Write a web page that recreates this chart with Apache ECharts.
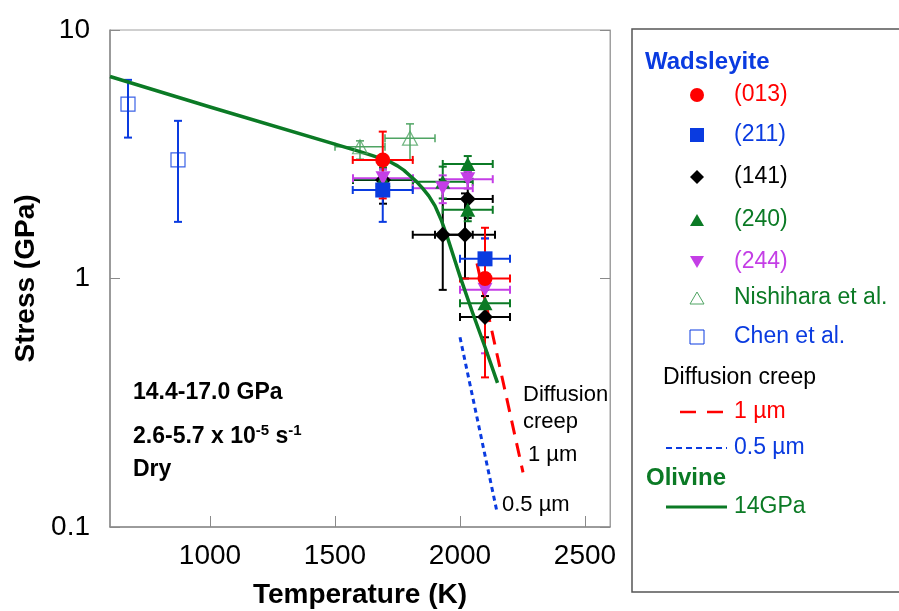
<!DOCTYPE html>
<html>
<head>
<meta charset="utf-8">
<script src="https://cdn.jsdelivr.net/npm/echarts@6/dist/echarts.min.js"></script>
<title>Wadsleyite stress vs temperature</title>
<style>html,body{margin:0;padding:0;background:#fff;}</style>
</head>
<body>
<div id="main" style="width:899px;height:611px;"></div>
<script>
var FONT = '"Liberation Sans", Arial, sans-serif';

// rows: [T (K), stress (GPa), T half error, stress low, stress high]
var w013 = [[1691, 3.0, 120, 2.1, 3.9], [2100, 1.0, 100, 0.40, 1.6]];
var w211 = [[1691, 2.27, 120, 1.69, 3.0], [2100, 1.2, 100, 1.05, 1.45]];
var w141 = [[1692, 2.49, 120, 2.0, 2.75], [1931, 1.5, 120, 0.9, 2.5], [2020, 1.5, 120, 1.0, 2.2],
            [2031, 2.09, 100, 1.75, 2.45], [2100, 0.7, 100, 0.58, 0.85]];
var w240 = [[1692, 2.5, 120, 2.2, 2.8], [1931, 2.45, 120, 2.1, 2.82], [2031, 2.89, 100, 2.68, 3.11],
            [2031, 1.89, 100, 1.7, 2.1], [2100, 0.795, 100, 0.7, 0.9]];
var w244 = [[1692, 2.53, 120, 2.3, 2.75], [1931, 2.31, 120, 2.01, 2.6], [2031, 2.51, 100, 2.3, 2.7],
            [2100, 0.9, 100, 0.5, 1.45]];
var nishihara = [[1600, 3.39, 100, 3.02, 3.58], [1800, 3.67, 100, 3.0, 4.19]];
var chen = [[672, 5.03, 0, 3.69, 6.3], [872, 3.0, 0, 1.69, 4.31]];

// olivine flow law at 14 GPa
var olivineT = [600, 1000, 1600, 1650, 1700, 1725, 1750, 1775, 1800, 1825, 1850,
                1875, 1900, 1925, 1950, 1975, 2000, 2050, 2100, 2150];
var olivineS = [6.5, 4.9, 3.24, 3.12, 3.0, 2.93, 2.84, 2.73, 2.59, 2.46, 2.31,
                2.15, 1.96, 1.72, 1.46, 1.22, 1.02, 0.73, 0.53, 0.38];

// diffusion creep
var creep1T = [2068, 2252];
var creep1S = [1.15, 0.166];
var creep05T = [2000, 2148];
var creep05S = [0.58, 0.115];

var xTicks = [1000, 1500, 2000, 2500];

var RED = '#ff0000', BLUE = '#0a3be0', BLACK = '#000000', GREEN = '#0b7a25',
    PURPLE = '#c43ee6', LGREEN = '#4fa463';

function pairs(xs, ys) {
  return xs.map(function (x, i) { return [x, ys[i]]; });
}
function points(rows) {
  return rows.map(function (r) { return [r[0], r[1]]; });
}

function errorBars(color, width) {
  return function (params, api) {
    var t = api.value(0), s = api.value(1), dt = api.value(2);
    var lo = api.value(3), hi = api.value(4);
    var c = api.coord([t, s]);
    var cap = 4;
    var st = { stroke: color, lineWidth: width };
    var kids = [];
    if (dt > 0) {
      var l = api.coord([t - dt, s]), r = api.coord([t + dt, s]);
      kids.push({ type: 'line', shape: { x1: l[0], y1: c[1], x2: r[0], y2: c[1] }, style: st });
      kids.push({ type: 'line', shape: { x1: l[0], y1: c[1] - cap, x2: l[0], y2: c[1] + cap }, style: st });
      kids.push({ type: 'line', shape: { x1: r[0], y1: c[1] - cap, x2: r[0], y2: c[1] + cap }, style: st });
    }
    if (lo > 0 && hi > 0) {
      var b = api.coord([t, lo]), u = api.coord([t, hi]);
      kids.push({ type: 'line', shape: { x1: c[0], y1: b[1], x2: c[0], y2: u[1] }, style: st });
      kids.push({ type: 'line', shape: { x1: c[0] - cap, y1: b[1], x2: c[0] + cap, y2: b[1] }, style: st });
      kids.push({ type: 'line', shape: { x1: c[0] - cap, y1: u[1], x2: c[0] + cap, y2: u[1] }, style: st });
    }
    return { type: 'group', children: kids };
  };
}

function barSeries(rows, color, width) {
  return {
    type: 'custom', renderItem: errorBars(color, width), data: rows,
    encode: { x: 0, y: 1 }, z: 2, silent: true
  };
}
function markSeries(rows, symbol, size, color, extra) {
  var s = {
    type: 'scatter', data: points(rows), symbol: symbol, symbolSize: size,
    itemStyle: { color: color, opacity: 1 }, z: 5, silent: true
  };
  for (var k in extra) s[k] = extra[k];
  return s;
}

// legend box (drawn by hand, mixed headings)
var legendRows = [
  { text: '(013)', color: RED, mark: 'circle', y: 95 },
  { text: '(211)', color: BLUE, mark: 'square', y: 135 },
  { text: '(141)', color: BLACK, mark: 'diamond', y: 177 },
  { text: '(240)', color: GREEN, mark: 'triangle', y: 220 },
  { text: '(244)', color: PURPLE, mark: 'down', y: 262 },
  { text: 'Nishihara et al.', color: GREEN, mark: 'openTri', y: 298 },
  { text: 'Chen et al.', color: BLUE, mark: 'openSq', y: 337 }
];

function legendMark(row) {
  var cx = 697, cy = row.y;
  switch (row.mark) {
    case 'circle': return { type: 'circle', shape: { cx: cx, cy: cy, r: 7 }, style: { fill: row.color } };
    case 'square': return { type: 'rect', shape: { x: cx - 7, y: cy - 7, width: 14, height: 14 }, style: { fill: row.color } };
    case 'diamond': return { type: 'polygon', shape: { points: [[cx, cy - 7], [cx + 7, cy], [cx, cy + 7], [cx - 7, cy]] }, style: { fill: row.color } };
    case 'triangle': return { type: 'polygon', shape: { points: [[cx, cy - 6], [cx + 7, cy + 6], [cx - 7, cy + 6]] }, style: { fill: row.color } };
    case 'down': return { type: 'polygon', shape: { points: [[cx - 7, cy - 6], [cx + 7, cy - 6], [cx, cy + 6]] }, style: { fill: row.color } };
    case 'openTri': return { type: 'polygon', shape: { points: [[cx, cy - 6], [cx + 7, cy + 6], [cx - 7, cy + 6]] }, style: { fill: '#fff', stroke: LGREEN, lineWidth: 1 } };
    default: return { type: 'rect', shape: { x: cx - 7, y: cy - 7, width: 14, height: 14 }, style: { fill: '#fff', stroke: BLUE, lineWidth: 1 } };
  }
}

function label(x, y, text, color, size, bold, rich) {
  return {
    type: 'text', x: x, y: y, silent: true,
    style: {
      text: text, fill: color, fontFamily: FONT, fontSize: size, fontWeight: bold ? 'bold' : 'normal',
      align: 'left', verticalAlign: 'middle', textAlign: 'left', textVerticalAlign: 'middle', rich: rich
    }
  };
}

var graphics = [
  { type: 'rect', shape: { x: 632, y: 29, width: 300, height: 563 }, style: { fill: 'none', stroke: '#555', lineWidth: 1.5 }, silent: true },
  label(645, 62, 'Wadsleyite', BLUE, 24, true)
];
legendRows.forEach(function (r) {
  graphics.push(legendMark(r));
  graphics.push(label(734, r.y, r.text, r.color, 23, false));
});
graphics.push(label(663, 378, 'Diffusion creep', BLACK, 23, false));
graphics.push({ type: 'line', shape: { x1: 680, y1: 412, x2: 724, y2: 412 }, style: { stroke: RED, lineWidth: 2.5, lineDash: [16, 11] } });
graphics.push(label(734, 412, '1 µm', RED, 23, false));
graphics.push({ type: 'line', shape: { x1: 666, y1: 448, x2: 727, y2: 448 }, style: { stroke: BLUE, lineWidth: 2, lineDash: [6, 4] } });
graphics.push(label(734, 448, '0.5 µm', BLUE, 23, false));
graphics.push(label(646, 478, 'Olivine', GREEN, 24, true));
graphics.push({ type: 'line', shape: { x1: 666, y1: 507, x2: 727, y2: 507 }, style: { stroke: GREEN, lineWidth: 3 } });
graphics.push(label(734, 507, '14GPa', GREEN, 23, false));

// annotations inside plot
graphics.push(label(133, 393, '14.4-17.0 GPa', BLACK, 23, true));
graphics.push(label(133, 437, '2.6-5.7 x 10{s|-5} s{s|-1}', BLACK, 23, true, {
  s: { fontFamily: FONT, fontSize: 15, fontWeight: 'bold', verticalAlign: 'top', padding: [0, 0, 12, 0] }
}));
graphics.push(label(133, 470, 'Dry', BLACK, 23, true));
graphics.push(label(523, 395, 'Diffusion', BLACK, 22, false));
graphics.push(label(523, 422, 'creep', BLACK, 22, false));
graphics.push(label(528, 455, '1 µm', BLACK, 22, false));
graphics.push(label(502, 505, '0.5 µm', BLACK, 22, false));

var axisLine = { lineStyle: { color: '#8a8a8a', width: 1.5 } };

var chart = echarts.init(document.getElementById('main'), null, { renderer: 'canvas' });
chart.setOption({
  animation: false,
  backgroundColor: '#fff',
  grid: {
    left: 110, top: 30, right: 289, bottom: 84, outerBoundsMode: 'none',
    show: true, borderColor: '#a0a0a0', borderWidth: 1
  },
  xAxis: {
    type: 'value', min: 600, max: 2600,
    name: 'Temperature (K)', nameLocation: 'middle', nameGap: 54,
    nameTextStyle: { fontFamily: FONT, fontSize: 28, fontWeight: 'bold', color: '#000' },
    axisLine: axisLine,
    axisTick: { inside: true, length: 11, lineStyle: { color: '#8a8a8a' }, customValues: xTicks },
    axisLabel: {
      fontFamily: FONT, fontSize: 28, color: '#000', margin: 15, customValues: xTicks,
      formatter: function (v) { return String(v); }
    },
    splitLine: { show: false }
  },
  yAxis: [{
    type: 'log', logBase: 10, min: 0.1, max: 10,
    name: 'Stress (GPa)', nameLocation: 'middle', nameGap: 66, nameRotate: 90,
    nameTextStyle: { fontFamily: FONT, fontSize: 28, fontWeight: 'bold', color: '#000' },
    axisLine: axisLine,
    axisTick: { inside: true, length: 10, lineStyle: { color: '#8a8a8a' } },
    axisLabel: { fontFamily: FONT, fontSize: 28, color: '#000', margin: 20 },
    splitLine: { show: false }
  }, {
    type: 'log', logBase: 10, min: 0.1, max: 10, position: 'right',
    axisLine: { lineStyle: { color: '#a0a0a0', width: 1 } },
    axisTick: { inside: true, length: 10, lineStyle: { color: '#8a8a8a' } },
    axisLabel: { show: false },
    splitLine: { show: false }
  }],
  graphic: graphics,
  series: [
    { type: 'line', data: pairs(creep05T, creep05S), showSymbol: false, z: 1, silent: true,
      lineStyle: { color: BLUE, width: 3, type: [5, 4] } },
    { type: 'line', data: pairs(creep1T, creep1S), showSymbol: false, z: 1, silent: true,
      lineStyle: { color: RED, width: 3, type: [14, 9] } },
    barSeries(chen, BLUE, 2),
    barSeries(nishihara, LGREEN, 1.5),
    barSeries(w141, BLACK, 2),
    barSeries(w240, GREEN, 2),
    barSeries(w244, PURPLE, 2),
    barSeries(w211, BLUE, 2),
    barSeries(w013, RED, 2),
    { type: 'line', data: pairs(olivineT, olivineS), showSymbol: false, smooth: false,
      z: 3, silent: true, lineStyle: { color: GREEN, width: 3.5, join: 'round' } },
    markSeries(chen, 'rect', 14, '#fff', { itemStyle: { color: 'rgba(255,255,255,0)', borderColor: BLUE, borderWidth: 1.2 } }),
    markSeries(nishihara, 'triangle', [15, 14], '#fff', { itemStyle: { color: 'rgba(255,255,255,0)', borderColor: LGREEN, borderWidth: 1.2 } }),
    markSeries(w141, 'diamond', 16, BLACK),
    markSeries(w240, 'triangle', [15, 14], GREEN),
    markSeries(w244, 'triangle', [15, 14], PURPLE, { symbolRotate: 180 }),
    markSeries(w211, 'rect', 15, BLUE),
    markSeries(w013, 'circle', 15, RED)
  ]
});
</script>
</body>
</html>
